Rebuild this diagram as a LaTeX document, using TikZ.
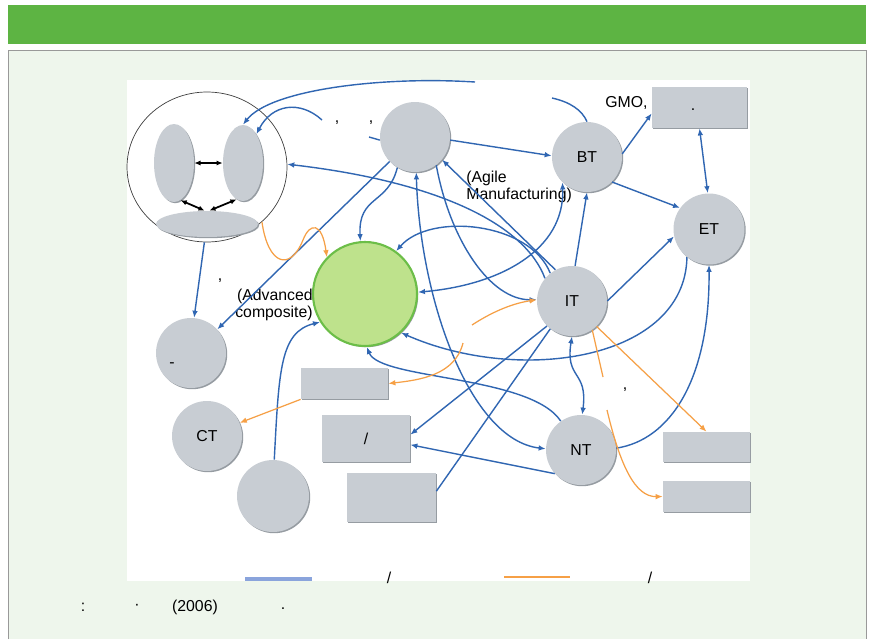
\documentclass[tikz,border=0pt]{standalone}
\usepackage{fontspec}
\setmainfont{Liberation Sans}
\usetikzlibrary{positioning}
\usetikzlibrary{arrows.meta,shapes.geometric,shadows}

\begin{document}
\begin{tikzpicture}
  [x=0.02cm, y=-0.02cm,
   lift/.style={drop shadow={shadow xshift=.7pt, shadow yshift=-.7pt, fill=shadowgray, opacity=1}},
   tech/.style={circle, fill=techgray, minimum size=1.4cm, inner sep=0pt, font=\fontsize{9}{11}\selectfont, lift},
   part/.style={ellipse, fill=techgray, inner sep=0pt, lift},
   card/.style={rectangle, fill=techgray, inner sep=0pt, lift},
   word/.style={inner sep=0pt, font=\fontsize{9}{9.6}\selectfont},
   link/.style={linkblue, line width=.8pt, -{Latex[length=4pt,width=3.2pt]}},
   twoway/.style={link, {Latex[length=4pt,width=3.2pt]}-{Latex[length=4pt,width=3.2pt]}},
   flow/.style={linkorange, line width=.7pt, -{Latex[length=4pt,width=3.2pt]}},
   pair/.style={black, line width=1pt, {Latex[length=3.5pt,width=3pt]}-{Latex[length=3.5pt,width=3pt]}},
  ]
  \definecolor{techgray}{RGB}{200,205,211}
  \definecolor{shadowgray}{RGB}{150,156,162}
  \definecolor{leafgreen}{RGB}{190,226,140}
  \definecolor{rimgreen}{RGB}{108,190,72}
  \definecolor{linkblue}{RGB}{48,102,178}
  \definecolor{legendblue}{RGB}{138,164,220}
  \definecolor{linkorange}{RGB}{246,160,70}
  \definecolor{barcolor}{RGB}{93,180,67}
  \definecolor{panelbg}{RGB}{238,246,236}

  \useasboundingbox (0,0) rectangle (874,639);
  \fill[white] (0,0) rectangle (874,639);
  \fill[barcolor] (8,5) rectangle (866,44);
  \filldraw[fill=panelbg, draw=black!40] (8,639) -- (8,50) -- (866,50) -- (866,639);
  \fill[white] (127,80) rectangle (750,581);

  % people ring
  \node[draw=black!75, fill=white, ellipse, minimum width=3.2cm, minimum height=3cm, inner sep=0pt] (whole) at (207,167) {};
  \node[part, minimum width=.8cm, minimum height=1.56cm] (lpart) at (174,163) {};
  \node[part, minimum width=.8cm, minimum height=1.52cm] (rpart) at (243,163) {};
  \node[part, minimum width=2.04cm, minimum height=.52cm] (base) at (207,224) {};
  \draw[pair] (lpart.east) -- (rpart.west);
  \draw[pair] (lpart.280) -- (base.100);
  \draw[pair] (rpart.260) -- (base.80);

  % technologies
  \node[tech] (hub) at (415,137) {};
  \node[tech] (bt) at (587,157) {BT};
  \node[tech, minimum size=1.42cm] (et) at (709,229) {ET};
  \node[tech] (it) at (572,301) {IT};
  \node[tech] (nt) at (581,450) {NT};
  \node[tech] (dash) at (191,353) {};
  \node[tech] (ct) at (207,436) {CT};
  \node[tech, minimum size=1.44cm] (low) at (273,496) {};
  \node[circle, fill=leafgreen, draw=rimgreen, line width=1.2pt, minimum size=2.08cm, inner sep=0pt, lift] (adv) at (365,294) {};

  % boxes
  \node[card, minimum width=1.9cm, minimum height=.82cm] (gmo) at (699.5,107.5) {};
  \node[card, minimum width=1.74cm, minimum height=.62cm] (boxa) at (344.5,383.5) {};
  \node[card, minimum width=1.76cm, minimum height=.94cm, font=\fontsize{9}{11}\selectfont] (boxb) at (366,438.5) {/};
  \node[card, minimum width=1.78cm, minimum height=.98cm] (boxc) at (391.5,497.5) {};
  \node[card, minimum width=1.74cm, minimum height=.6cm] (boxd) at (706.5,447) {};
  \node[card, minimum width=1.74cm, minimum height=.62cm] (boxe) at (706.5,496.5) {};

  % labels
  \node[word, anchor=base west] (gmolabel) at (605,107) {GMO,};
  \node[word] (gmodot) at (693,110) {.};
  \node[word] (dashmark) at (172,365) {-};
  \node[word, anchor=west, align=left] (agile) at (466,187) {(Agile\\Manufacturing)};
  \node[word, anchor=east, align=right] (composite) at (313,305) {(Advanced\\composite)};
  \node[word] (comma1) at (337,123) {,};
  \node[word] (comma2) at (371,123) {,};
  \node[word] (comma3) at (220,281) {,};
  \node[word] (comma4) at (625,390) {,};

  % free ends
  \coordinate (arcend) at (475,82);
  \coordinate (btarc) at (552,98);
  \coordinate (ringarc) at (322,120);
  \coordinate (hubstub) at (369,137);
  \coordinate (flowa) at (472,325);
  \coordinate (flowb) at (463,343);
  \coordinate (flowc) at (603,377);
  \coordinate (flowd) at (607,410);

  % blue links
  \draw[link] (arcend) .. controls (380,76) and (270,90) .. (rpart.north);
  \draw[link, -] (btarc) .. controls (570,102) and (582,110) .. (bt.north);
  \draw[link] (ringarc) .. controls (300,100) and (272,104) .. (rpart.65);
  \draw[link, -] (hubstub) -- (hub.185);
  \draw[link] (it.140) .. controls (525,225) and (440,182) .. (whole.2);
  \draw[link] (hub.355) -- (bt.178);
  \draw[link] (bt.5) -- (gmo.187);
  \draw[twoway] (gmo.south) -- (et.92);
  \draw[link] (bt.315) -- (et.144);
  \draw[link] (it.85) -- (bt.south);
  \draw[twoway] (adv.2) .. controls (500,285) and (565,250) .. (bt.226);
  \draw[link] (it.128) .. controls (530,222) and (430,212) .. (adv.54);
  \draw[link] (hub.240) .. controls (388,205) and (358,195) .. (adv.95);
  \draw[link] (hub.224) -- (dash.42);
  \draw[link] (whole.268) -- (dash.85);
  \draw[twoway] (hub.272) .. controls (420,300) and (470,440) .. (nt.178);
  \draw[link] (hub.307) .. controls (450,240) and (490,300) .. (it.178);
  \draw[link] (it.118) -- (hub.320);
  \draw[link] (et.232) .. controls (685,360) and (520,385) .. (adv.313);
  \draw[link] (nt.125) .. controls (530,375) and (380,380) .. (adv.272);
  \draw[link] (low.88) .. controls (279,370) and (280,332) .. (adv.212);
  \draw[link] (it.225) -- (boxb.5);
  \draw[link] (nt.222) -- (boxb.-8);
  \draw[link, -] (it.232) -- (boxc.8);
  \draw[twoway] (it.270) .. controls (565,380) and (588,370) .. (nt.88);
  \draw[link] (it.0) -- (et.192);
  \draw[link] (nt.3) .. controls (670,440) and (710,380) .. (et.270);

  % orange flows
  \draw[flow] (whole.315) .. controls (268,265) and (290,272) .. (303,240) .. controls (310,222) and (322,222) .. (adv.136);
  \draw[flow] (flowa) .. controls (495,310) and (515,303) .. (it.178);
  \draw[flow] (flowb) .. controls (455,375) and (420,380) .. (boxa.east);
  \draw[flow] (boxa.south west) -- (ct.22);
  \draw[flow] (it.314) -- (boxd.north);
  \draw[flow, -] (it.305) -- (flowc);
  \draw[flow] (flowd) .. controls (620,465) and (635,497) .. (boxe.west);

  % legend and source
  \draw[legendblue, line width=2.2pt] (245,579) -- (312,579);
  \node[word] (legslash1) at (389,578) {/};
  \draw[linkorange, line width=.8pt] (504,577) -- (570,577);
  \node[word] (legslash2) at (650,578) {/};
  \node[word] (colon) at (83,607) {:};
  \node[word] (middot) at (137,607) {·};
  \node[word] (year) at (195,607) {(2006)};
  \node[word] (fullstop) at (283,609) {.};
\end{tikzpicture}
\end{document}
